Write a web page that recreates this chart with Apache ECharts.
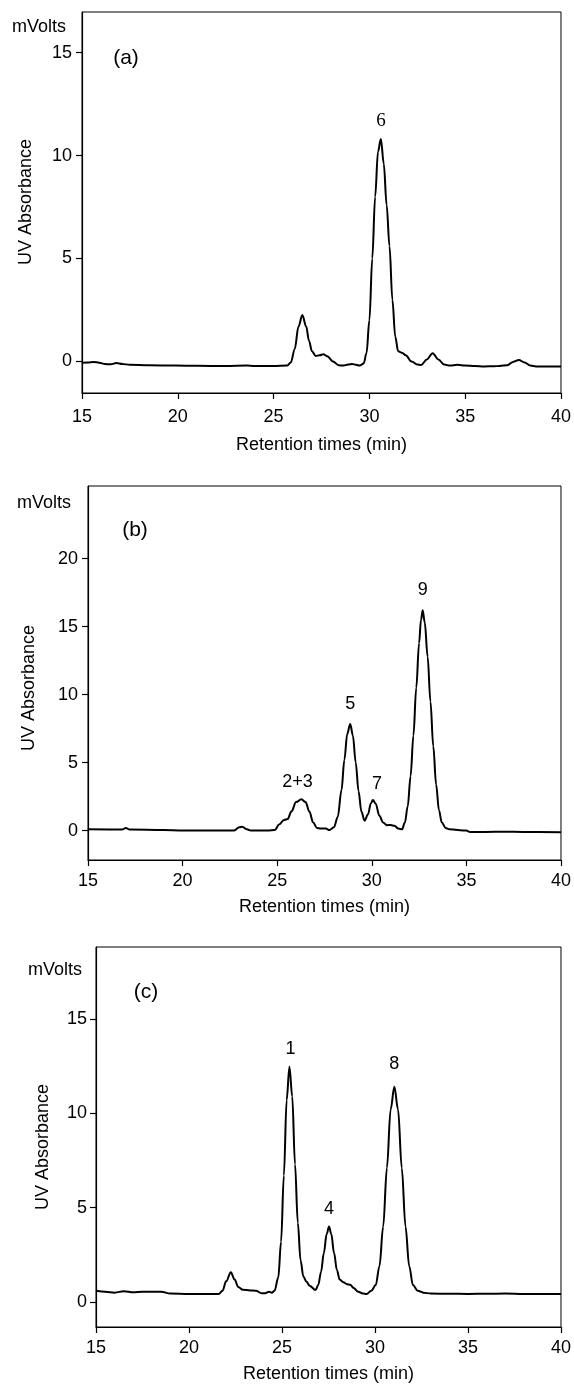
<!DOCTYPE html>
<html>
<head>
<meta charset="utf-8">
<script src="https://cdn.jsdelivr.net/npm/echarts@6/dist/echarts.min.js"></script>
<style>
  html, body { margin: 0; padding: 0; background: #fff; }
  #chart { width: 574px; height: 1385px; }
</style>
</head>
<body>
<div id="chart"></div>
<script>
// ---------- data (retention time [min], UV absorbance [mV]) ----------
const xTicks = [15, 20, 25, 30, 35, 40];
const yTicksA = [0, 5, 10, 15];
const yTicksB = [0, 5, 10, 15, 20];
const yTicksC = [0, 5, 10, 15];

const traceA = [
  [15,-0.06],[15.3,-0.05],[15.6,-0.02],[15.9,-0.06],[16.2,-0.12],[16.5,-0.14],[16.8,-0.07],[17.1,-0.12],
  [17.5,-0.16],[18.5,-0.18],[19.9,-0.2],[21,-0.21],[22.5,-0.22],[23.6,-0.2],[24,-0.22],[25,-0.22],
  [25.7,-0.2],[25.9,-0.05],[26.1,0.6],[26.3,1.7],[26.5,2.26],[26.7,1.7],[26.85,1.0],[27.0,0.5],
  [27.2,0.27],[27.4,0.3],[27.6,0.35],[27.8,0.25],[28.1,0.0],[28.4,-0.18],[28.6,-0.2],[28.9,-0.15],
  [29.1,-0.12],[29.3,-0.16],[29.5,-0.2],[29.7,-0.1],[29.85,0.4],[30.0,2.0],[30.15,5.0],[30.3,8.0],
  [30.45,10.2],[30.6,10.8],[30.75,9.6],[30.9,7.6],[31.05,5.6],[31.2,3.0],[31.35,1.2],[31.5,0.5],
  [31.7,0.42],[31.9,0.3],[32.2,0.0],[32.5,-0.15],[32.7,-0.17],[33.0,0.1],[33.3,0.4],[33.6,0.1],
  [33.9,-0.15],[34.2,-0.2],[34.6,-0.16],[35,-0.2],[35.5,-0.22],[36,-0.24],[36.5,-0.23],[36.8,-0.22],
  [37.2,-0.18],[37.5,-0.02],[37.8,0.07],[38.1,-0.05],[38.4,-0.2],[38.7,-0.24],[40,-0.24]
];

const traceB = [
  [15,0.1],[16.8,0.08],[17.0,0.2],[17.2,0.08],[19,0.05],[20,0.0],[22.7,0.0],[23.0,0.25],[23.15,0.29],
  [23.4,0.1],[23.6,0.0],[24.5,0.0],[24.88,0.05],[25.1,0.45],[25.36,0.78],[25.55,0.85],[25.75,1.4],
  [26.0,2.1],[26.28,2.3],[26.5,2.1],[26.7,1.4],[26.9,0.6],[27.1,0.2],[27.3,0.15],[27.57,0.15],
  [27.76,0.04],[28.0,0.25],[28.2,1.0],[28.4,3.0],[28.55,5.2],[28.7,7.1],[28.86,7.84],[29.0,7.0],
  [29.15,5.0],[29.3,2.9],[29.45,1.4],[29.62,0.73],[29.8,1.2],[29.95,2.0],[30.06,2.25],[30.2,2.0],
  [30.4,1.1],[30.6,0.6],[30.8,0.4],[31.0,0.41],[31.2,0.35],[31.4,0.15],[31.6,0.1],[31.75,0.6],
  [31.9,1.8],[32.05,4.0],[32.2,7.0],[32.35,10.5],[32.5,13.8],[32.6,15.5],[32.69,16.2],[32.8,15.3],
  [32.95,12.8],[33.1,9.5],[33.25,6.2],[33.4,3.4],[33.55,1.5],[33.7,0.6],[33.9,0.2],[34.1,0.1],
  [35,0.0],[35.2,-0.1],[36,-0.1],[37,-0.08],[38,-0.1],[40,-0.12]
];

const traceC = [
  [15,0.6],[15.5,0.55],[16,0.5],[16.5,0.58],[17,0.52],[17.5,0.55],[18.5,0.55],[19,0.45],[20,0.43],
  [21,0.43],[21.6,0.43],[21.8,0.6],[22.0,1.1],[22.25,1.58],[22.45,1.2],[22.65,0.8],[22.9,0.65],
  [23.3,0.62],[23.6,0.6],[23.9,0.47],[24.1,0.47],[24.3,0.55],[24.45,0.5],[24.6,0.6],[24.8,1.3],
  [24.95,3.2],[25.1,6.7],[25.25,10.7],[25.4,12.47],[25.55,10.9],[25.7,7.3],[25.85,4.2],[26.0,2.2],
  [26.15,1.35],[26.3,1.1],[26.5,0.85],[26.8,0.64],[26.95,0.9],[27.1,1.6],[27.25,2.6],[27.4,3.6],
  [27.53,4.0],[27.65,3.6],[27.8,2.6],[27.95,1.7],[28.1,1.2],[28.3,1.05],[28.5,0.95],[28.67,0.92],
  [28.85,0.75],[29.1,0.55],[29.35,0.45],[29.55,0.43],[29.8,0.6],[30.04,0.9],[30.24,1.9],[30.44,4.0],
  [30.64,7.1],[30.84,10.2],[31.04,11.41],[31.24,10.2],[31.44,7.1],[31.64,4.0],[31.84,1.9],[32.04,0.9],
  [32.3,0.6],[32.6,0.5],[33,0.45],[34,0.44],[35,0.43],[36,0.44],[37,0.45],[38,0.43],[40,0.43]
];

// peak annotations: [time, value, label]
const peaksA = [[30.6, 10.8, '6']];
const peaksB = [[26.28, 2.3, '2+3'], [28.86, 7.84, '5'], [30.06, 2.25, '7'], [32.69, 16.2, '9']];
const peaksC = [[25.4, 12.47, '1'], [27.53, 4.0, '4'], [31.04, 11.41, '8']];

// ---------- chart ----------
const SANS = '"Liberation Sans", Arial, sans-serif';
const SERIF = '"Liberation Serif", "Times New Roman", serif';

const panels = [
  { grid: { left: 82, top: 12, width: 480, height: 381 }, yMin: -1.53, yMax: 16.97, yTicks: yTicksA,
    trace: traceA, peaks: peaksA, labelMargin: 10 },
  { grid: { left: 88, top: 486, width: 477, height: 374 }, yMin: -2.16, yMax: 25.34, yTicks: yTicksB,
    trace: traceB, peaks: peaksB, labelMargin: 10 },
  { grid: { left: 96, top: 947, width: 471, height: 380 }, yMin: -1.32, yMax: 18.81, yTicks: yTicksC,
    trace: traceC, peaks: peaksC, labelMargin: 9 }
];

const peakLabelStyle = {
  '6':   { distance: 8,  offset: [0, 0],  font: SERIF, size: 19 },
  '2+3': { distance: 8,  offset: [-4, 0], font: SANS,  size: 18 },
  '5':   { distance: 10, offset: [0, 0],  font: SANS,  size: 18 },
  '7':   { distance: 6,  offset: [4, 0],  font: SANS,  size: 18 },
  '9':   { distance: 11, offset: [0, 0],  font: SANS,  size: 18 },
  '1':   { distance: 8,  offset: [1, 0],  font: SANS,  size: 18 },
  '4':   { distance: 8,  offset: [0, 0],  font: SANS,  size: 18 },
  '8':   { distance: 13, offset: [0, 0],  font: SANS,  size: 18 }
};

function txt(text, x, y, size, rot) {
  return { type: 'text', x: x, y: y, rotation: rot || 0,
           style: { text: text, fontFamily: SANS, fontSize: size, fill: '#000', align: 'center', verticalAlign: 'middle' } };
}

const option = {
  animation: false,
  backgroundColor: '#fff',
  grid: panels.map(p => Object.assign({ show: true, borderColor: '#000', borderWidth: 1, backgroundColor: 'transparent' }, p.grid)),
  xAxis: panels.map((p, i) => ({
    type: 'value', gridIndex: i, min: xTicks[0], max: xTicks[xTicks.length - 1], interval: 5,
    name: 'Retention times (min)', nameLocation: 'middle', nameGap: i === 0 ? 43 : 38,
    nameTextStyle: { fontFamily: SANS, fontSize: 18, color: '#000' },
    axisLine: { show: true, onZero: false, lineStyle: { color: '#000', width: 1.2 } },
    axisTick: { show: true, length: 6, lineStyle: { color: '#000', width: 1.2 } },
    axisLabel: { margin: i === 0 ? 15 : 12, fontFamily: SANS, fontSize: 18, color: '#000' },
    splitLine: { show: false }
  })),
  yAxis: panels.map((p, i) => ({
    type: 'value', gridIndex: i, min: p.yMin, max: p.yMax,
    axisLine: { show: true, onZero: false, lineStyle: { color: '#000', width: 1.2 } },
    axisTick: { show: true, length: 6, customValues: p.yTicks, lineStyle: { color: '#000', width: 1.2 } },
    axisLabel: { margin: p.labelMargin, customValues: p.yTicks, fontFamily: SANS, fontSize: 18, color: '#000' },
    splitLine: { show: false }
  })),
  series: panels.map((p, i) => ({
    type: 'line', xAxisIndex: i, yAxisIndex: i, data: p.trace,
    showSymbol: false, smooth: 0.35, smoothMonotone: 'x',
    lineStyle: { color: '#000', width: 2 },
    markPoint: {
      symbol: 'circle', symbolSize: 1, itemStyle: { color: 'rgba(0,0,0,0)' },
      data: p.peaks.map(pk => {
        const st = peakLabelStyle[pk[2]];
        return {
          coord: [pk[0], pk[1]], value: pk[2],
          label: { show: true, position: 'top', distance: st.distance, offset: st.offset,
                   formatter: pk[2], fontFamily: st.font, fontSize: st.size, color: '#000' }
        };
      })
    }
  })),
  graphic: [
    txt('mVolts', 39, 27, 18),
    txt('mVolts', 44, 503, 18),
    txt('mVolts', 55, 970, 18),
    txt('(a)', 126, 58, 21),
    txt('(b)', 135, 530, 21),
    txt('(c)', 146, 992, 21),
    txt('UV Absorbance', 26, 202, 18, Math.PI / 2),
    txt('UV Absorbance', 29, 688, 18, Math.PI / 2),
    txt('UV Absorbance', 43, 1147, 18, Math.PI / 2)
  ]
};

const chart = echarts.init(document.getElementById('chart'), null, { renderer: 'canvas', width: 574, height: 1385 });
chart.setOption(option);
</script>
</body>
</html>
